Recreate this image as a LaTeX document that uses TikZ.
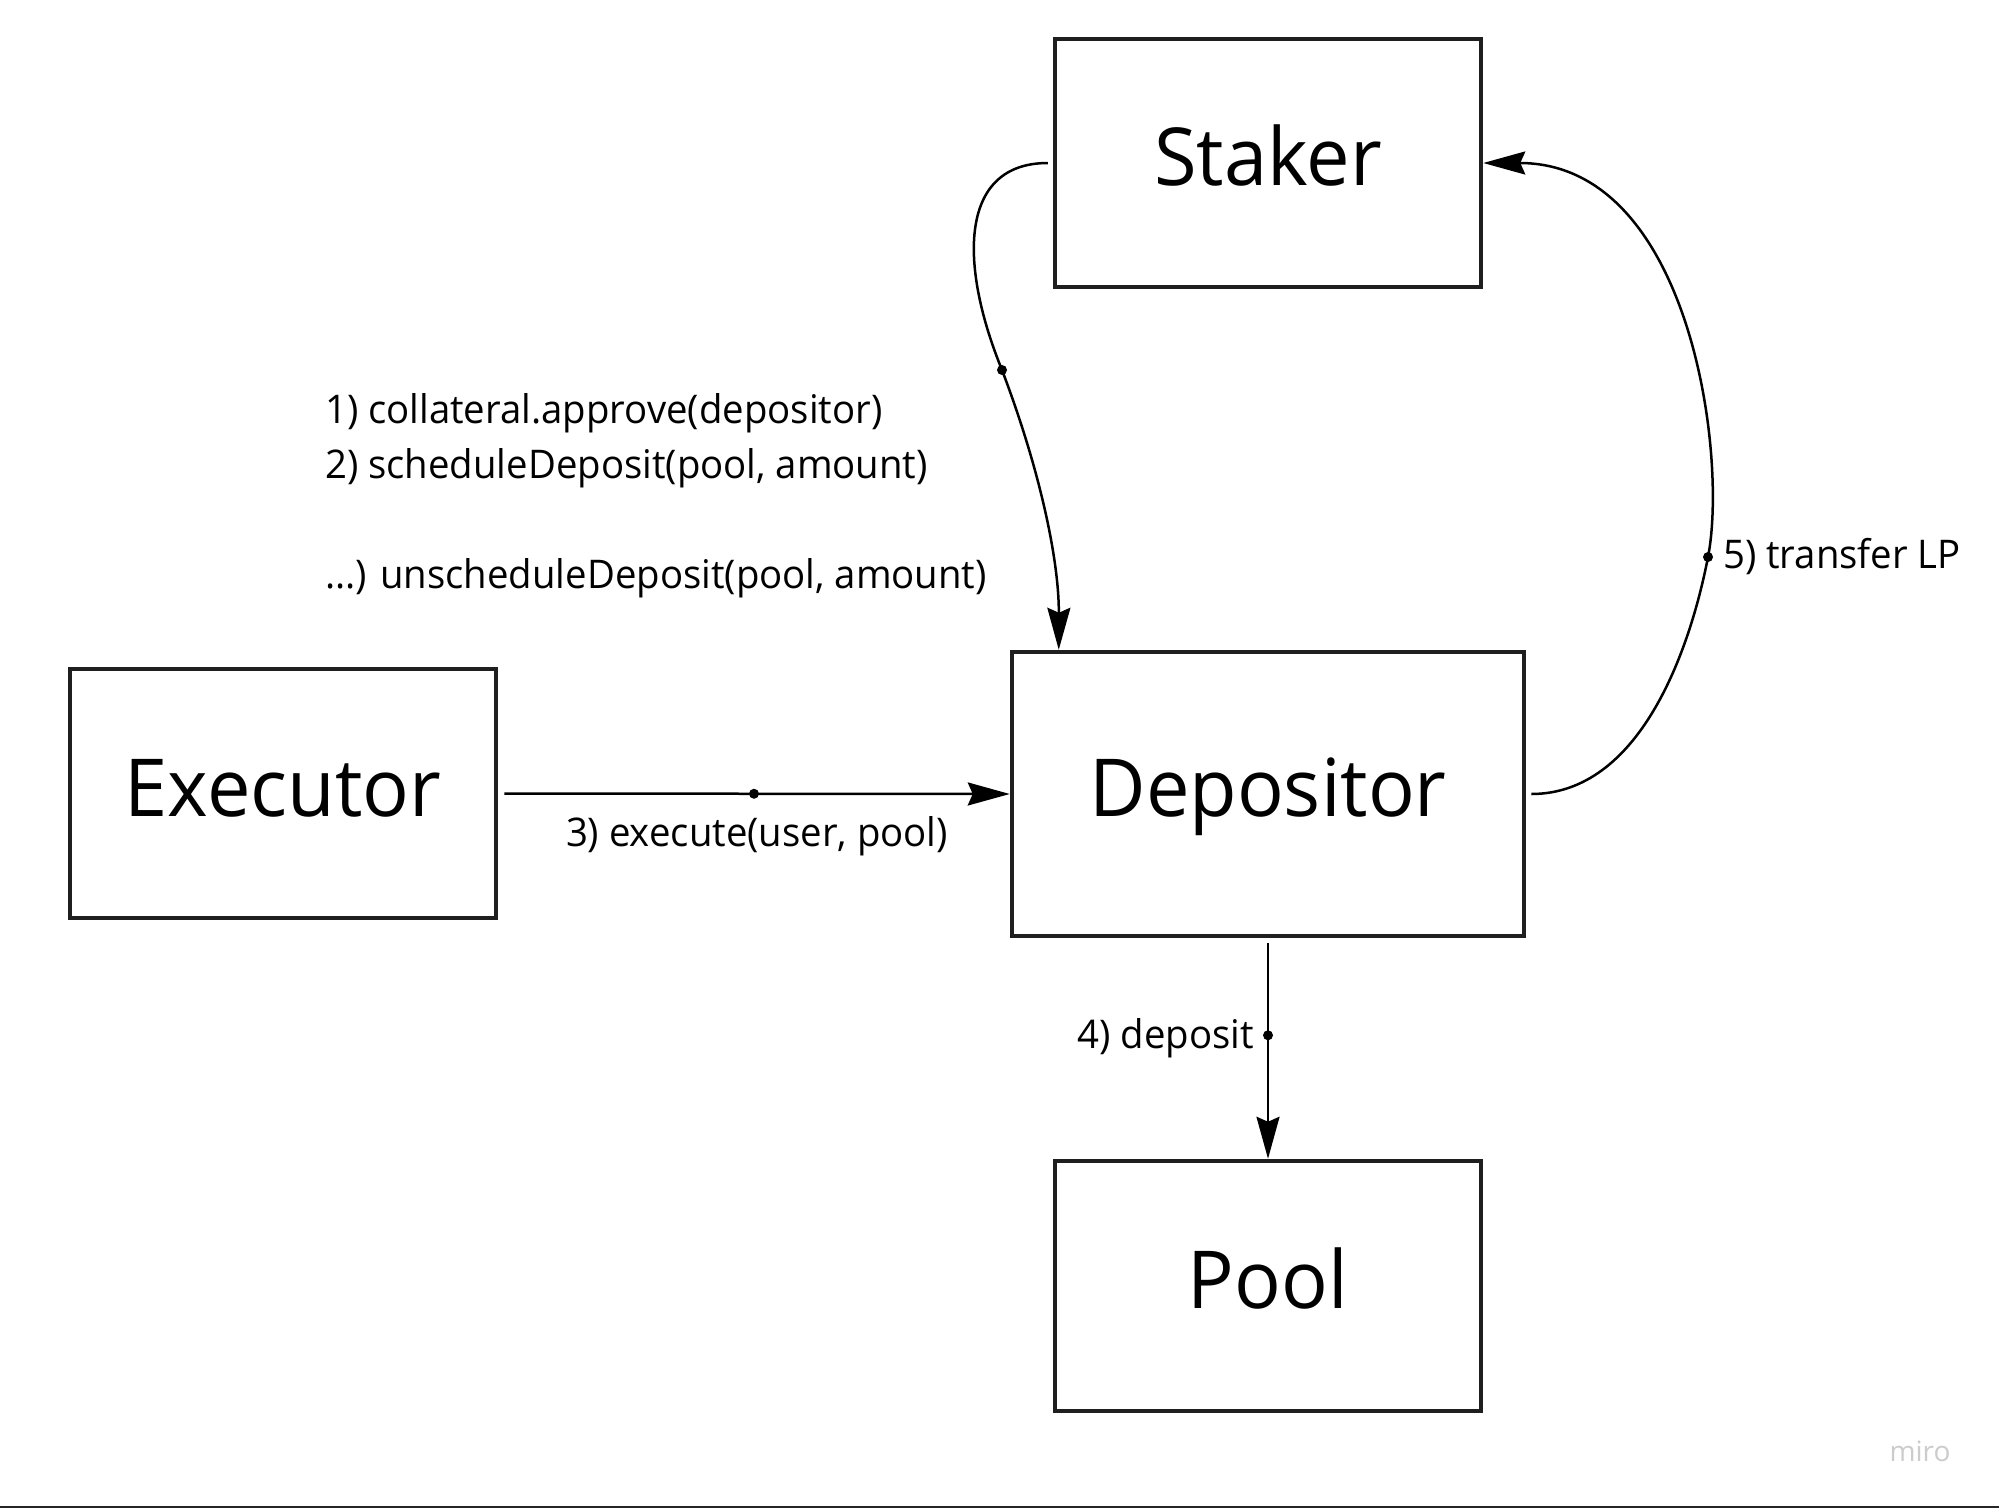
\documentclass[tikz,border=0pt]{standalone}
\usepackage{fontspec}
\setmainfont{Open Sans}
\newfontfamily\condfont[FakeStretch=0.97]{Open Sans}
\usetikzlibrary{arrows.meta,calc}
\begin{document}
\begin{tikzpicture}[x=1pt,y=-1pt,
  boxstyle/.style={draw=black!88, line width=4.5pt, inner sep=0pt, font=\condfont\fontsize{80}{96}\selectfont, text height=45pt, text depth=0pt},
  conn/.style={line width=2.5pt, -{Stealth[length=42pt,width=23pt,inset=5pt]}},
  dotmark/.style={circle, fill=black, inner sep=0pt, minimum size=10pt},
  lbl/.style={font=\condfont\fontsize{39.5}{46}\selectfont, inner sep=0pt}]
\useasboundingbox[fill=white] (0,0) rectangle (1999,1508);
\fill[black!85] (0,1505.5) rectangle (1999,1508);

\node[boxstyle, minimum width=426pt, minimum height=248pt] (staker) at (1268,163) {Staker};
\node[boxstyle, minimum width=426pt, minimum height=249pt] (executor) at (283,793.5) {Executor};
\node[boxstyle, minimum width=512pt, minimum height=284pt] (depositor) at (1268,794) {Depositor};
\node[boxstyle, minimum width=426pt, minimum height=250pt] (pool) at (1268,1286) {Pool};

% 1) / 2) Staker -> Depositor
\coordinate (c1) at (1002,370);
\draw[conn] ($(staker.west)+(-5,0)$) .. controls (960,163) and (958,262) .. (c1)
  .. controls (1040,470) and (1059,560) .. ($(depositor.north west)+(49,0)$);
\node[dotmark] (d1) at (c1) {};

% 3) Executor -> Depositor
\draw[conn, shorten <=6pt] (executor.east) -- (depositor.west) node[dotmark, pos=0.5] (d3) {};
\node[lbl] (l3) at (757,836) {3) execute(user, pool)};

% 4) Depositor -> Pool
\draw[conn, shorten <=5pt] (depositor.south) -- (pool.north) node[dotmark, pos=0.44] (d4) {};
\node[lbl, anchor=east] (l4) at (1254,1038) {4) deposit};

% 5) Depositor -> Staker
\coordinate (c5) at (1708,557);
\draw[conn] ($(depositor.east)+(5,0)$) .. controls (1640,794) and (1690,650) .. (c5)
  .. controls (1728,455) and (1690,163) .. (staker.east);
\node[dotmark] (d5) at (c5) {};
\node[lbl, anchor=west] (l5) at (1723,557) {5) transfer LP};

% call list
\node[lbl, anchor=west] (t1) at (325,413) {1) collateral.approve(depositor)};
\node[lbl, anchor=west] (t2) at (325,468) {2) scheduleDeposit(pool, amount)};
\node[lbl, anchor=west] (t3) at (325,578) {...) unscheduleDeposit(pool, amount)};

\node[font=\fontsize{28}{30}\selectfont, text=gray!40] (miro) at (1920,1451) {miro};
\end{tikzpicture}
\end{document}
